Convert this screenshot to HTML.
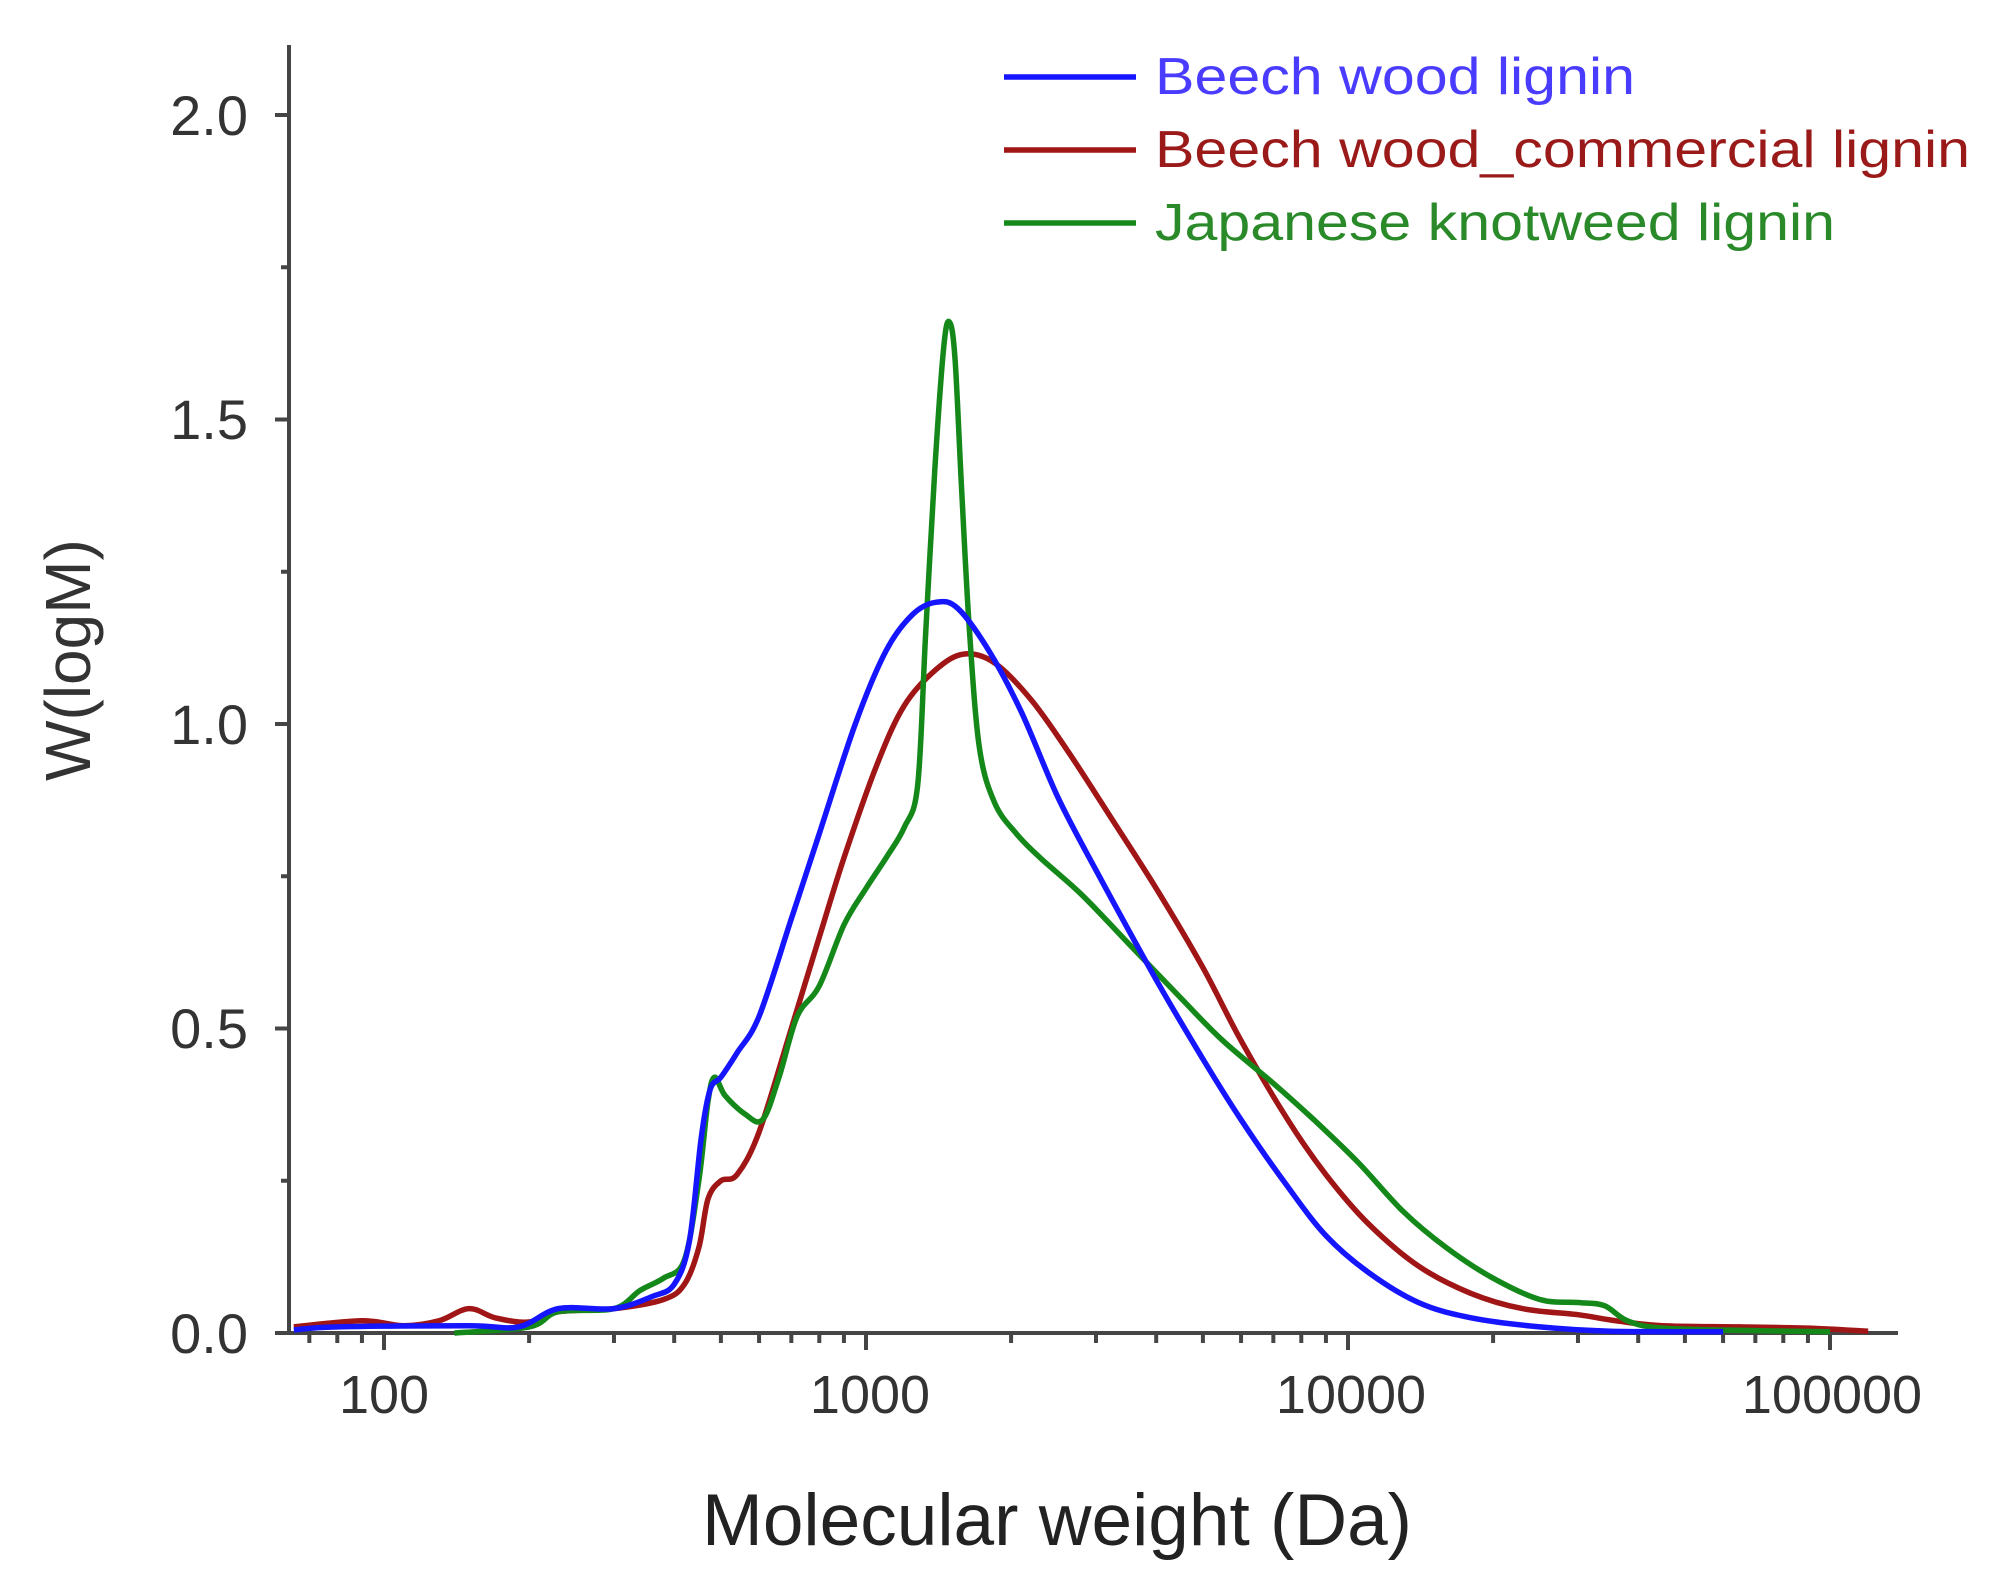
<!DOCTYPE html>
<html><head><meta charset="utf-8"><style>
html,body{margin:0;padding:0;background:#fff;}
svg{display:block;}
text{font-family:"Liberation Sans",Arial,sans-serif;}
</style></head><body>
<svg id="s" width="1994" height="1591" viewBox="0 0 1994 1591" xmlns="http://www.w3.org/2000/svg">
<g id="axes" stroke="#454545" stroke-width="4" fill="none">
<line x1="289" y1="45" x2="289" y2="1335"/>
<line x1="287" y1="1333" x2="1898" y2="1333"/>
</g>
<g id="ticks" stroke="#454545" stroke-width="4"></g>
<g font-size="56" fill="#333" text-anchor="end">
<text x="248" y="135">2.0</text>
<text x="248" y="439">1.5</text>
<text x="248" y="744">1.0</text>
<text x="248" y="1048">0.5</text>
<text x="248" y="1353">0.0</text>
</g>
<g font-size="54" fill="#333" text-anchor="middle">
<text x="384" y="1413">100</text>
<text x="870" y="1413">1000</text>
<text x="1351" y="1413">10000</text>
<text x="1832" y="1413">100000</text>
</g>
<text x="1057" y="1545" font-size="73" fill="#222" text-anchor="middle">Molecular weight (Da)</text>
<text transform="translate(90,660) rotate(-90)" font-size="64" fill="#333" text-anchor="middle">W(logM)</text>
<g stroke-width="5.5" fill="none">
<line x1="1004" y1="77" x2="1136" y2="77" stroke="#1515ff"/>
<line x1="1004" y1="150" x2="1136" y2="150" stroke="#a01515"/>
<line x1="1004" y1="223" x2="1136" y2="223" stroke="#15881a"/>
</g>
<g font-size="52">
<text x="1155" y="94" fill="#4a3cff" textLength="480" lengthAdjust="spacingAndGlyphs">Beech wood lignin</text>
<text x="1155" y="167" fill="#9a1a1a" textLength="815" lengthAdjust="spacingAndGlyphs">Beech wood_commercial lignin</text>
<text x="1155" y="240" fill="#2a8a2a" textLength="680" lengthAdjust="spacingAndGlyphs">Japanese knotweed lignin</text>
</g>
<g id="curves" fill="none" stroke-width="5.5" stroke-linejoin="round"></g>
</svg>
<script>
var NS="http://www.w3.org/2000/svg";
function X(m){return 384+(Math.log10(m)-2)*482;}
function Y(w){return 1333-w*609;}
var t=document.getElementById('ticks'),s='';
function ln(a,b,c,d){return '<line x1="'+a+'" y1="'+b+'" x2="'+c+'" y2="'+d+'"/>';}
for(var v=0;v<=2.0001;v+=0.5){s+=ln(275,Y(v),289,Y(v));}
for(var v=0.25;v<2;v+=0.5){s+=ln(281,Y(v),289,Y(v));}
for(var d=10;d<=100000;d*=10){for(var k=1;k<10;k++){var m=d*k;var x=X(m);if(x<292||x>1898)continue;s+=ln(x,1333,x,k==1?1350:1343);}}
t.innerHTML=s;
var B=[[65,0.005],[80,0.01],[150,0.012],[190,0.01],[230,0.04],[300,0.04],[360,0.06],[400,0.08],[430,0.15],[455,0.32],[475,0.4],[500,0.42],[540,0.46],[600,0.52],[700,0.68],[800,0.82],[950,1.0],[1100,1.12],[1250,1.18],[1400,1.2],[1550,1.19],[1800,1.12],[2100,1.02],[2500,0.88],[3000,0.76],[4000,0.58],[5000,0.45],[6000,0.35],[7500,0.24],[9000,0.16],[11000,0.1],[14000,0.05],[18000,0.025],[25000,0.01],[35000,0.003],[60000,0.002]];
var R=[[65,0.01],[90,0.02],[110,0.012],[130,0.02],[150,0.04],[170,0.025],[200,0.018],[230,0.035],[300,0.04],[380,0.055],[420,0.08],[450,0.14],[470,0.22],[500,0.25],[540,0.26],[600,0.33],[700,0.5],[800,0.65],[900,0.78],[1050,0.93],[1200,1.03],[1400,1.09],[1600,1.115],[1850,1.1],[2200,1.04],[2600,0.96],[3200,0.85],[4000,0.73],[5000,0.6],[6000,0.48],[7500,0.35],[9000,0.26],[11000,0.18],[14000,0.11],[18000,0.065],[23000,0.04],[30000,0.03],[36000,0.02],[45000,0.012],[65000,0.01],[90000,0.008],[120000,0.003]];
var G=[[140,0.0],[200,0.01],[230,0.035],[300,0.04],[340,0.07],[380,0.09],[420,0.12],[450,0.25],[470,0.38],[485,0.42],[510,0.39],[560,0.36],[610,0.35],[660,0.42],[720,0.52],[800,0.57],[900,0.67],[1000,0.73],[1100,0.78],[1200,0.83],[1280,0.9],[1330,1.15],[1390,1.42],[1450,1.62],[1490,1.66],[1530,1.6],[1580,1.38],[1640,1.15],[1720,0.96],[1850,0.87],[2050,0.82],[2300,0.78],[2800,0.72],[3500,0.64],[4500,0.55],[5500,0.48],[7000,0.41],[8500,0.35],[10500,0.28],[13000,0.2],[16000,0.14],[20000,0.09],[25000,0.055],[30000,0.05],[34000,0.045],[38000,0.02],[45000,0.008],[70000,0.004],[100000,0.002]];
function path(d,c){
 var P=d.map(function(q){return [X(q[0]),Y(q[1])];});
 var p='M'+P[0][0].toFixed(1)+' '+P[0][1].toFixed(1);
 for(var i=0;i<P.length-1;i++){
  var p0=P[Math.max(i-1,0)],p1=P[i],p2=P[i+1],p3=P[Math.min(i+2,P.length-1)];
  var k=1/6;
  var c1=[p1[0]+(p2[0]-p0[0])*k,p1[1]+(p2[1]-p0[1])*k];
  var c2=[p2[0]-(p3[0]-p1[0])*k,p2[1]-(p3[1]-p1[1])*k];
  p+=' C'+c1[0].toFixed(1)+' '+c1[1].toFixed(1)+' '+c2[0].toFixed(1)+' '+c2[1].toFixed(1)+' '+p2[0].toFixed(1)+' '+p2[1].toFixed(1);
 }
 var e=document.createElementNS(NS,'path');e.setAttribute('d',p);e.setAttribute('stroke',c);document.getElementById('curves').appendChild(e);}
path(R,'#a01515');path(G,'#15881a');path(B,'#1515ff');
</script>
</body></html>
